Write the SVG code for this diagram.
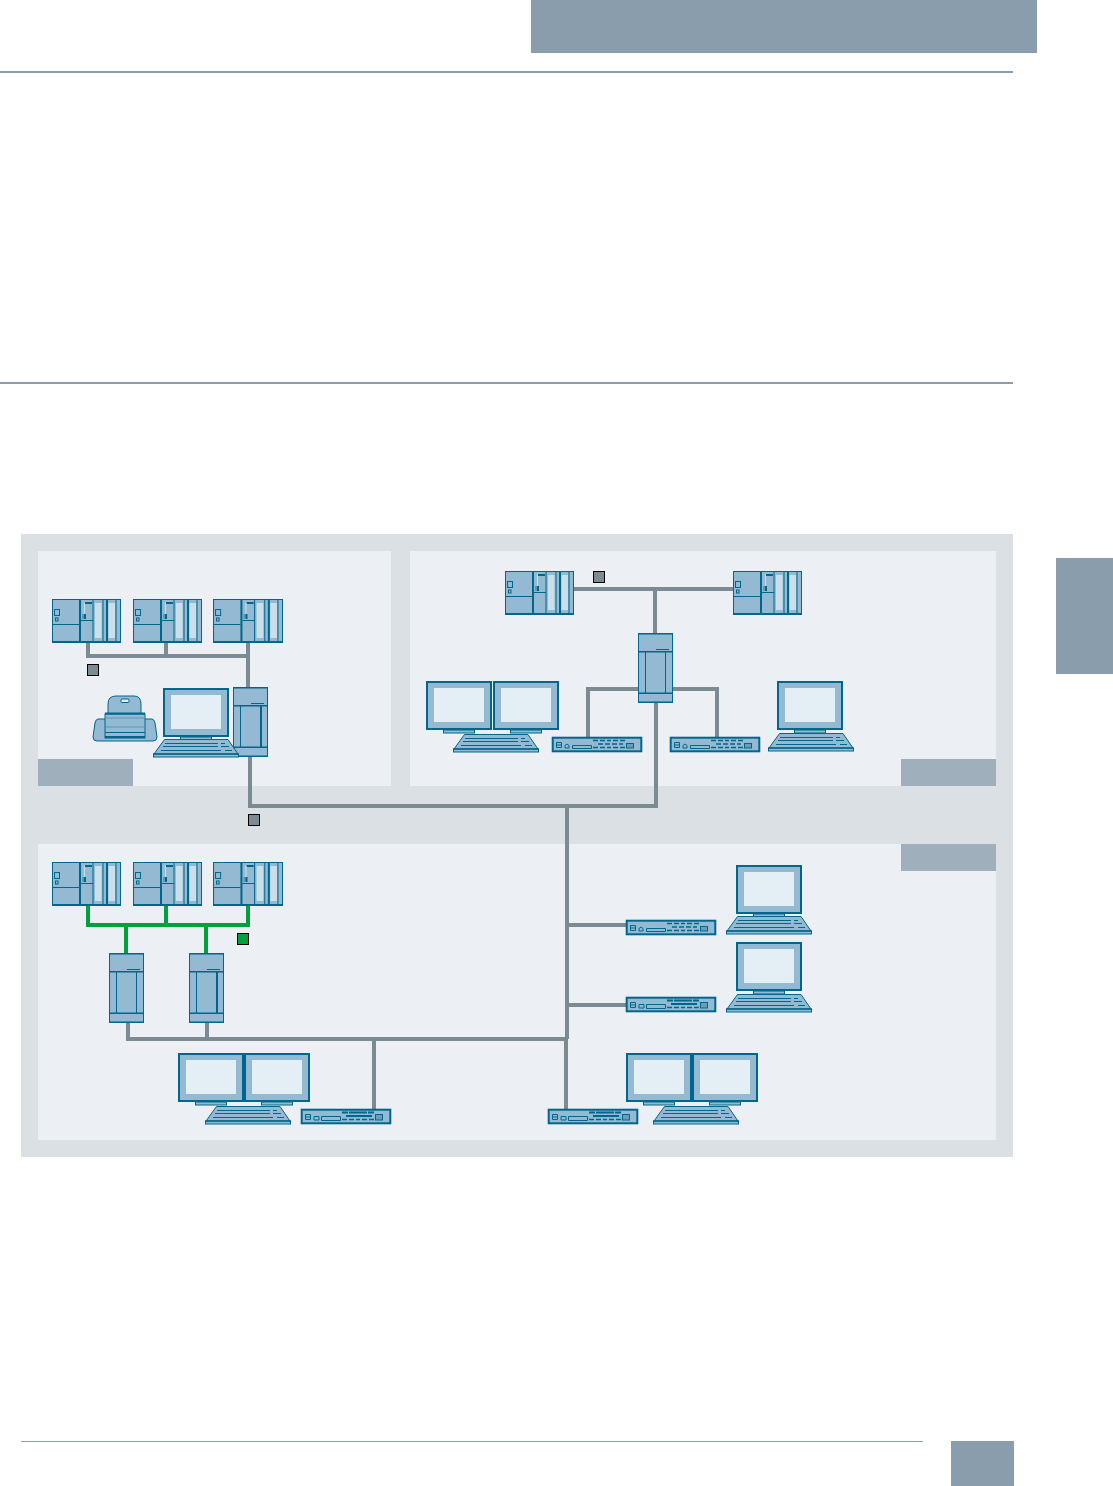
<svg xmlns="http://www.w3.org/2000/svg" xmlns:xlink="http://www.w3.org/1999/xlink" width="1113" height="1486" viewBox="0 0 1113 1486">
<style>
.d{fill:#93BAD2;stroke:#00678C;stroke-width:1}
.m{fill:#93BAD2;stroke:#00678C;stroke-width:2}
.l{fill:#CBDFEA}
.s{fill:#E4EFF5}
.k{fill:#00678C}
.h{stroke:#00678C;stroke-width:1;fill:none}
.g{stroke:#00678C;stroke-width:1.3;fill:none}
.bus{fill:none;stroke:#7C8A91;stroke-width:4}
.pb{fill:none;stroke:#00A03C;stroke-width:4}
.tag{fill:#9FAFBB}
.hd{fill:#8A9DAD}
.panel{fill:#ECF0F4}
.sq{stroke:#000;stroke-width:1}
</style>
<defs>
<g id="plc">
<rect class="d" x="0.5" y="0.5" width="68" height="43"/>
<rect class="k" x="0" y="42" width="69" height="2"/>
<rect class="k" x="27" y="0" width="2" height="44"/>
<path class="h" d="M0 25.500H27M29 21.500H41M41 0V44M51 0V44M64 0V44"/>
<rect class="k" x="54" y="0" width="2" height="44"/>
<rect class="h" x="2.500" y="10.500" width="5" height="6"/>
<rect class="h" x="3.500" y="19" width="2.500" height="3"/>
<rect class="k" x="33" y="3" width="7" height="2"/>
<rect class="l" x="32" y="3.500" width="1" height="12"/>
<rect fill="#5F97B3" x="30" y="15" width="2" height="5"/>
<rect class="k" x="32" y="15" width="2" height="5"/>
<rect class="l" x="43" y="4" width="6.500" height="35"/>
<rect class="l" x="56.500" y="4" width="6.500" height="35"/>
</g>
<g id="monitor">
<rect class="m" x="1" y="1" width="64" height="47"/>
<rect class="s" x="8" y="7" width="50" height="34"/>
<rect class="d" x="17.500" y="49" width="31" height="3"/>
</g>
<g id="keyboard">
<path class="d" d="M11.500 .5H75L85 15H1Z"/>
<rect class="d" x="0.500" y="15" width="85" height="3"/>
<rect class="k" x="0" y="14.500" width="86" height="1.200"/>
<path class="h" d="M12 4.500H65M68 4.500H72M10 7.500H65M68 7.500H76M8 11.500H68M72 11.500H79"/>
</g>
<g id="tower">
<rect class="d" x="0.500" y="0.500" width="34" height="69"/>
<rect class="k" x="0" y="0" width="35" height="1.500"/>
<rect class="k" x="0" y="68.500" width="35" height="1.500"/>
<path class="h" d="M18 16.500H31M7.500 19V61M27.500 19V61"/>
<rect class="k" x="0" y="18" width="35" height="1.500"/>
<rect class="k" x="0" y="59.500" width="35" height="1.500"/>
</g>
<g id="switchA">
<rect class="m" x="0.700" y="0.700" width="88.600" height="13.600" stroke-width="1.400"/>
<path class="h" d="M4.500 5.500H9.500V10.500H4.500ZM4.500 8H9.500M13 11V8.500L15 7L17 8.500V11ZM20.500 8.500H39.500V11.500H20.500Z"/>
<path class="g" d="M41 3.500H46M48 3.500H53M55 3.500H59M61 3.500H66M68 3.500H73M46 7H51M53 7H58M60 7H65M67 7H71M41 10.500H46M48 10.500H53M55 10.500H59M61 10.500H66M68 10.500H73"/>
<rect fill="#6C9DB8" stroke="#00678C" x="74.500" y="6.500" width="7" height="4.500"/>
</g>
<g id="switchB">
<rect class="m" x="0.700" y="0.700" width="88.600" height="13.600" stroke-width="1.400"/>
<path class="h" d="M4.500 5.500H9.500V10.500H4.500ZM4.500 8H9.500M13 7.500H18V11H13ZM20.500 7.500H39.500V11.500H20.500Z"/>
<path class="g" d="M41 10.500H46M48 10.500H53M55 10.500H59M61 10.500H66M68 10.500H73"/>
<path stroke="#00678C" stroke-width="2" fill="none" d="M41 3.500H47M48 3.500H66M67 3.500H73M45 7H71"/>
<rect fill="#6C9DB8" stroke="#00678C" x="74.500" y="5.500" width="7" height="5.500"/>
</g>
</defs>
<rect width="1113" height="1486" fill="#fff"/>
<g id="page">
<rect class="hd" x="531" y="0" width="506" height="53"/>
<rect class="hd" x="1056" y="558" width="57" height="116"/>
<rect class="hd" x="951" y="1441" width="63" height="45"/>
<rect class="hd" x="0" y="71" width="1013" height="2"/>
<rect class="hd" x="0" y="382" width="1013" height="2"/>
<rect class="hd" x="21" y="1441" width="902" height="1"/>
</g>
<g id="panels">
<rect x="21" y="534" width="992" height="623" fill="#DBE0E4"/>
<rect class="panel" x="38" y="551" width="353" height="235"/>
<rect class="panel" x="410" y="551" width="586" height="235"/>
<rect class="panel" x="38" y="844" width="958" height="296"/>
<rect class="tag" x="38" y="759" width="95" height="27"/>
<rect class="tag" x="901" y="759" width="95" height="27"/>
<rect class="tag" x="901" y="844" width="95" height="27"/>
</g>
<g id="connectors">
<path class="bus" d="M88 643V656H248M166 643V656M248 643V687"/>
<path class="bus" d="M250 757V806H656V703"/>
<path class="bus" d="M574 589H733M655 589V633"/>
<path class="bus" d="M638 689H588V737M673 689H717V737"/>
<path class="bus" d="M567 806V1039M567 925H626M567 1005H626"/>
<path class="bus" d="M128 1023V1039H567M207 1023V1039M374 1039V1109M566 1039V1109"/>
<path class="pb" d="M88 905V925H248V905M166 905V925M126 925V953M206 925V953"/>
</g>
<g id="plc1"><use href="#plc" x="52" y="599"/></g>
<g id="plc2"><use href="#plc" x="133" y="599"/></g>
<g id="plc3"><use href="#plc" transform="translate(213 599) scale(1.015 1)"/></g>
<g id="plc4"><use href="#plc" x="505" y="571"/></g>
<g id="plc5"><use href="#plc" x="733" y="571"/></g>
<g id="plc6"><use href="#plc" x="52" y="862"/></g>
<g id="plc7"><use href="#plc" x="133" y="862"/></g>
<g id="plc8"><use href="#plc" transform="translate(213 862) scale(1.015 1)"/></g>
<g id="printer">
<path d="M98 719H152Q154 719 155 723L157 737Q157 741 153 741H97Q93 741 93 737L95 723Q96 719 98 719Z" class="d" stroke-width="1.400"/>
<path d="M108 714V704Q108 696 116 696H134Q141 696 141 704V714Z" class="d" stroke-width="1.400"/>
<rect x="121" y="699" width="8" height="3.500" rx="1" fill="#E4EFF5" stroke="#00678C"/>
<rect class="d" x="105" y="714" width="40" height="24"/>
<path stroke="#5F97B3" fill="none" d="M106 718H144M106 727H144"/>
<rect class="k" x="105" y="732" width="40" height="1"/>
<rect class="k" x="105" y="736" width="40" height="2"/>
<rect class="k" x="105" y="712.500" width="40" height="2"/>
</g>
<g id="tower1"><use href="#tower" x="233" y="687"/><rect class="k" x="260" y="706" width="2" height="41"/></g>
<g id="pc1"><use href="#monitor" x="163" y="688"/><use href="#keyboard" x="153" y="739"/></g>
<g id="pc2"><use href="#monitor" x="426" y="681"/><use href="#monitor" x="493" y="681"/><use href="#keyboard" x="453" y="734"/></g>
<g id="tower2"><use href="#tower" x="638" y="633"/></g>
<g id="switch1"><use href="#switchA" x="552" y="737"/></g>
<g id="switch2"><use href="#switchA" x="670" y="737"/></g>
<g id="pc3"><use href="#monitor" x="777" y="681"/><use href="#keyboard" x="768" y="733"/></g>
<g id="tower3"><use href="#tower" x="109" y="953"/></g>
<g id="tower4"><use href="#tower" x="189" y="953"/><rect class="k" x="216" y="972" width="2" height="41"/></g>
<g id="pc4"><use href="#monitor" x="178" y="1053"/><use href="#monitor" x="244" y="1053"/><use href="#keyboard" x="205" y="1106"/></g>
<g id="switch3"><use href="#switchB" x="301" y="1109"/></g>
<g id="switch4"><use href="#switchB" x="548" y="1109"/></g>
<g id="pc5"><use href="#monitor" x="626" y="1053"/><use href="#monitor" x="692" y="1053"/><use href="#keyboard" x="653" y="1106"/></g>
<g id="switch5"><use href="#switchA" x="626" y="920"/></g>
<g id="switch6"><use href="#switchB" x="626" y="997"/></g>
<g id="pc6"><use href="#monitor" x="736" y="865"/><use href="#keyboard" x="726" y="916"/></g>
<g id="pc7"><use href="#monitor" x="736" y="942"/><use href="#keyboard" x="726" y="994"/></g>
<g id="markers">
<rect class="sq" x="87.500" y="664.500" width="11" height="11" fill="#7C8A91"/>
<rect class="sq" x="593.500" y="571.500" width="11" height="11" fill="#7C8A91"/>
<rect class="sq" x="248.500" y="814.500" width="11" height="11" fill="#7C8A91"/>
<rect class="sq" x="237.500" y="933.500" width="11" height="11" fill="#00A03C"/>
</g>
</svg>
